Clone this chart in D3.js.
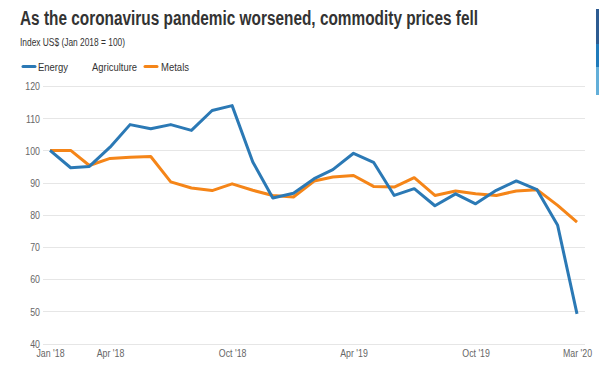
<!DOCTYPE html>
<html>
<head>
<meta charset="utf-8">
<script src="https://cdn.jsdelivr.net/npm/d3@7"></script>
<style>
  body { margin: 0; background: #fff; }
  svg { display: block; font-family: "Liberation Sans", Arial, sans-serif; }
  .grid line { stroke: #e6e6e6; stroke-width: 1; }
  .axis text { fill: #666; font-size: 11px; }
</style>
</head>
<body>
<div id="canvas"></div>
<script>
// DATA
const months = d3.range(27).map(i => new Date(2018, i, 1));

const energy = [100, 94.6, 95.0, 101.0, 108.0, 106.7, 108.0, 106.2, 112.4, 113.9, 96.4, 85.2, 86.7,
    91.2, 94.0, 99.1, 96.3, 86.0, 88.1, 82.8, 86.5, 83.4, 87.6, 90.5, 87.8, 76.7, 49.2];

const metals = [100, 100, 95.3, 97.5, 97.9, 98.1, 90.2, 88.3, 87.5, 89.6, 87.6, 86.0, 85.5,
    90.5, 91.7, 92.2, 88.8, 88.6, 91.5, 86.0, 87.4, 86.5, 86.0, 87.4, 87.8, 82.9, 77.7];

const yTicks = [40, 50, 60, 70, 80, 90, 100, 110, 120];
const xTicks = [new Date(2018, 0, 1), new Date(2018, 3, 1), new Date(2018, 9, 1),
    new Date(2019, 3, 1), new Date(2019, 9, 1), new Date(2020, 2, 1)];

const legendItems = ["Energy", "Agriculture", "Metals"];

// DIMENSIONS
const width = 600;
const height = 372;
const squeeze = 0.8; // the reference text is narrow

const svg = d3.select("#canvas")
    .append("svg")
    .attr("width", width)
    .attr("height", height);

// TITLE
svg.append("text")
    .attr("x", 20)
    .attr("y", 25)
    .attr("textLength", 458)
    .attr("lengthAdjust", "spacingAndGlyphs")
    .style("font-size", "19.5px")
    .style("font-weight", "bold")
    .style("fill", "#333")
    .text("As the coronavirus pandemic worsened, commodity prices fell");

svg.append("text")
    .attr("x", 20)
    .attr("y", 46)
    .attr("textLength", 105)
    .attr("lengthAdjust", "spacingAndGlyphs")
    .style("font-size", "11px")
    .style("fill", "#333")
    .text("Index US$ (Jan 2018 = 100)");

// LEGEND
const legend = svg.append("g").style("font-size", "11.5px").style("fill", "#333");
legend.append("line").attr("x1", 23).attr("x2", 35).attr("y1", 66.5).attr("y2", 66.5)
    .attr("stroke", "#2b79b5").attr("stroke-width", 3).attr("stroke-linecap", "round");
legend.append("text").attr("x", 38).attr("y", 70.5)
    .attr("textLength", 30).attr("lengthAdjust", "spacingAndGlyphs").text(legendItems[0]);
legend.append("text").attr("x", 92).attr("y", 70.5)
    .attr("textLength", 45).attr("lengthAdjust", "spacingAndGlyphs").text(legendItems[1]);
legend.append("line").attr("x1", 145).attr("x2", 157).attr("y1", 66.5).attr("y2", 66.5)
    .attr("stroke", "#f58518").attr("stroke-width", 3).attr("stroke-linecap", "round");
legend.append("text").attr("x", 161).attr("y", 70.5)
    .attr("textLength", 28).attr("lengthAdjust", "spacingAndGlyphs").text(legendItems[2]);

// right-edge scrollbar strip
const strip = [["#2d5b91", 9, 44], ["#1f7bbb", 44, 67], ["#63afd9", 67, 95]];
svg.selectAll(".strip").data(strip).enter().append("rect")
    .attr("x", 596).attr("width", 3)
    .attr("y", d => d[1]).attr("height", d => d[2] - d[1])
    .attr("fill", d => d[0]);

// SCALES
const xScale = d3.scaleTime()
    .domain([months[0], months[months.length - 1]])
    .range([50, 577]);

const yScale = d3.scaleLinear()
    .domain([40, 120])
    .range([343.5, 86]);

// GRID
const grid = svg.append("g").attr("class", "grid");
grid.selectAll("line").data(yTicks).enter().append("line")
    .attr("x1", 43).attr("x2", 585)
    .attr("y1", d => Math.round(yScale(d)) + 0.5)
    .attr("y2", d => Math.round(yScale(d)) + 0.5);

// AXES
const yAxis = svg.append("g")
    .attr("class", "axis")
    .attr("transform", "translate(40, 0)")
    .call(d3.axisLeft(yScale).tickValues(yTicks).tickSize(0).tickPadding(0));
yAxis.select(".domain").remove();
yAxis.selectAll("text").attr("dy", "0.35em").attr("transform", `scale(${squeeze},1)`);

const fmt = d3.timeFormat("%b '%y");
const xAxis = svg.append("g")
    .attr("class", "axis")
    .attr("transform", "translate(0, 345)")
    .call(d3.axisBottom(xScale).tickValues(xTicks).tickFormat(fmt).tickSize(0).tickPadding(4));
xAxis.select(".domain").remove();
xAxis.selectAll("text").attr("transform", `scale(${squeeze},1)`);

// LINES
const makeLine = values => d3.line()
    .x((d, i) => xScale(months[i]))
    .y(d => yScale(d))(values);

svg.append("path")
    .attr("d", makeLine(metals))
    .attr("fill", "none")
    .attr("stroke", "#f58518")
    .attr("stroke-width", 3)
    .attr("stroke-linejoin", "round");

svg.append("path")
    .attr("d", makeLine(energy))
    .attr("fill", "none")
    .attr("stroke", "#2b79b5")
    .attr("stroke-width", 3)
    .attr("stroke-linejoin", "round");
</script>
</body>
</html>
